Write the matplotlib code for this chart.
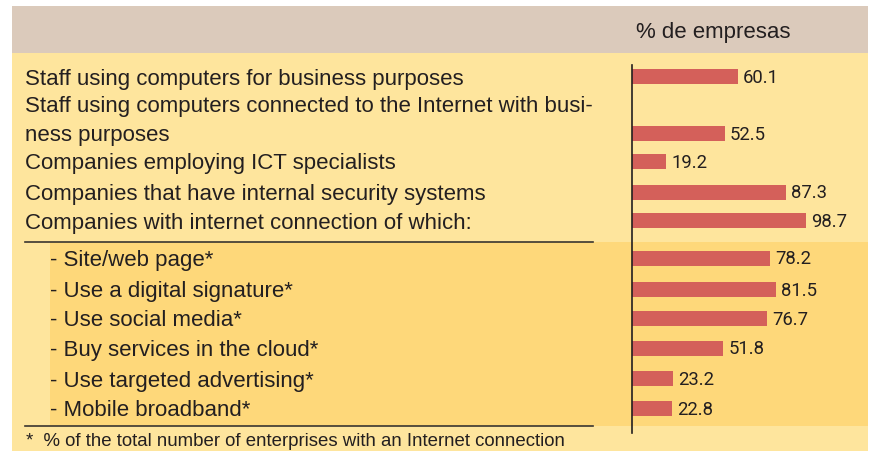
import matplotlib
matplotlib.use("Agg")
import matplotlib.pyplot as plt
from matplotlib.patches import Rectangle

# ---- data ----
labels_main = [
    "Staff using computers for business purposes",
    "Staff using computers connected to the Internet with busi-\nness purposes",
    "Companies employing ICT specialists",
    "Companies that have internal security systems",
    "Companies with internet connection of which:",
]
values_main = [60.1, 52.5, 19.2, 87.3, 98.7]

labels_sub = [
    "- Site/web page*",
    "- Use a digital signature*",
    "- Use social media*",
    "- Buy services in the cloud*",
    "- Use targeted advertising*",
    "- Mobile broadband*",
]
values_sub = [78.2, 81.5, 76.7, 51.8, 23.2, 22.8]

header = "% de empresas"
footnote = "*  % of the total number of enterprises with an Internet connection"

# ---- colours / layout (pixel units) ----
W, H = 870, 451
C_HEAD = "#dbcabb"
C_LIGHT = "#fee59d"
C_DARK = "#fed87a"
C_BAR = "#d4605a"
C_TEXT = "#231f20"
PX_PER_UNIT = 1.763
X0 = 632

FONT_LBL = "Liberation Sans"
FONT_VAL = "Roboto"
FS_LBL = 16
HALF_CAP = 8  # px, half the cap height of the labels

fig = plt.figure(figsize=(W / 100, H / 100), dpi=100)
bg = fig.add_axes([0, 0, 1, 1])
bg.set_xlim(0, W)
bg.set_ylim(H, 0)
bg.axis("off")

bg.add_patch(Rectangle((12, 6), 856, 47, color=C_HEAD, lw=0))
bg.add_patch(Rectangle((12, 53), 856, H - 53, color=C_LIGHT, lw=0))
bg.add_patch(Rectangle((50, 242), 818, 184, color=C_DARK, lw=0))
bg.plot([25, 593], [241.5, 241.5], color="#3a3530", lw=1.2)
bg.plot([25, 593], [426, 426], color="#3a3530", lw=1.2)

bg.text(636, 30 + HALF_CAP, header, fontsize=FS_LBL, family=FONT_LBL,
        color=C_TEXT, va="baseline")

# row centres
y_main = [76.5, 133, 161.5, 192, 220.5]
y_sub = [258, 289, 318.5, 348, 378.5, 408.5]


def label(x, y, s):
    bg.text(x, y + HALF_CAP, s, fontsize=FS_LBL, family=FONT_LBL,
            color=C_TEXT, va="baseline")


for i, lab in enumerate(labels_main):
    if "\n" in lab:
        l1, l2 = lab.split("\n")
        label(25, y_main[i] - 29, l1)
        label(25, y_main[i], l2)
    else:
        label(25, y_main[i], lab)
for i, lab in enumerate(labels_sub):
    label(50, y_sub[i], lab)

bg.text(26, 446, footnote, fontsize=13.4, family=FONT_LBL, color=C_TEXT,
        va="baseline")

# bars
ax = fig.add_axes([X0 / W, 0, (868 - X0) / W, 1])
ax.set_xlim(0, (868 - X0) / PX_PER_UNIT)
ax.set_ylim(H, 0)
ax.axis("off")
ys = y_main + y_sub
vals = values_main + values_sub
ax.barh(ys, vals, height=15, color=C_BAR, lw=0)
for y, v in zip(ys, vals):
    ax.text(v + 3.0, y + 6.5, f"{v:.1f}", fontsize=13.3, family=FONT_VAL,
            color=C_TEXT, va="baseline")
ax.plot([0, 0], [65, 433], color="#231f20", lw=1.2, clip_on=False)

fig.savefig("out.png", dpi=100)
